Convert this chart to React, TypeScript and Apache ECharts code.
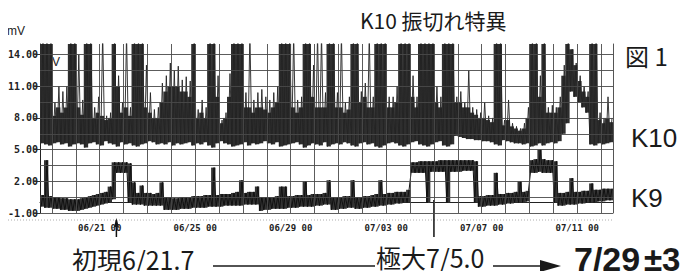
import React, { useEffect, useRef } from "react";
import * as echarts from "echarts";

// time axis in "day of June" (July d = 30 + d); 4-hour bins from 06/18 12:00
const T_START = 18.5;
const T_END = 42.5;
const BIN_DAYS = 1 / 6;

const xLabelDays = [21, 25, 29, 33, 37, 41];
const xGridDays = [19, 20, 21, 22, 23, 24, 25, 26, 27, 28, 29, 30, 31, 32, 33, 34, 35, 36, 37, 38, 39, 40, 41, 42];
const yLabelValues = [-1, 2, 5, 8, 11, 14];
const yGridValues = [-1, 0.5, 2, 3.5, 5, 6.5, 8, 9.5, 11, 12.5, 14];

const onsetDay = 21.7; // 初現6/21.7
const peakDay = 35.0; // 極大7/5.0

// K10 per 4-hour bin (mV): spike maxima, top of the dense trace, minima
const k10Hi = [
  16, 16, 16, 9.5, 11, 10.5, 11, 16, 16, 14,
  9.7, 16, 16, 9.0, 10, 16, 8.2, 8.5, 16, 12,
  9.5, 16, 9, 16, 16, 16, 13, 10.4, 8.8, 9,
  11.3, 12, 13.2, 12.5, 12.9, 11.6, 11.9, 11.5, 16, 8.8,
  9.7, 9, 16, 16, 12, 7.8, 8.5, 12.2, 16, 16,
  16, 10.4, 16, 9.7, 10.4, 10.7, 10, 9.7, 10.4, 11,
  16, 16, 16, 16, 9.7, 10, 16, 16, 13, 16,
  16, 10.4, 16, 16, 10.4, 16, 9.5, 10, 16, 16,
  10.5, 11.3, 16, 10, 16, 16, 16, 10, 10, 11,
  16, 16, 16, 12, 10, 16, 16, 16, 16, 11,
  10, 16, 16, 16, 10, 10.5, 9.5, 12.5, 9, 8.8,
  8.5, 9.5, 8.2, 8, 16, 16, 7.8, 9.7, 7.5, 7.2,
  7, 7.5, 9, 16, 16, 12, 16, 9, 9.2, 9,
  10, 13, 16, 14.5, 13.2, 12, 11, 10.5, 16, 16,
  8.5, 8, 10, 8,
];
const k10Body = [
  16, 16, 16, 8.2, 9, 8.5, 9, 16, 16, 9,
  8.3, 16, 16, 8, 8.5, 8.2, 7.8, 8, 16, 11,
  8.5, 9, 8.2, 16, 16, 16, 9, 8.5, 8, 8,
  9.5, 10.5, 11, 11, 11, 10.5, 10.5, 10, 16, 8,
  8.5, 8, 16, 16, 10, 7.5, 8, 10, 16, 16,
  16, 9, 9, 8.5, 9, 9, 8.8, 8.5, 9, 9.5,
  16, 16, 16, 9, 8.5, 9, 16, 16, 10, 9,
  9, 9, 16, 16, 9, 9, 8.5, 8.8, 16, 16,
  9.5, 10, 9, 9, 16, 16, 16, 9, 9, 9.5,
  16, 16, 16, 10, 9, 16, 16, 16, 16, 9.5,
  9, 16, 16, 16, 9.5, 9.5, 9, 9, 8.5, 8.3,
  8, 8, 7.8, 7.6, 16, 16, 7.3, 7.8, 7.2, 7,
  6.8, 7, 8, 16, 16, 10, 16, 8.5, 8.5, 8.5,
  9, 12, 16, 14.5, 13, 11.5, 10.5, 10, 16, 16,
  7.8, 7.5, 8, 7.6,
];
const k10Lo = [
  5.6, 5.5, 5.4, 5.6, 5.7, 5.5, 5.6, 5.3, 5.5, 5.6,
  5.5, 5.2, 5.6, 5.7, 5.5, 5.4, 5.8, 5.6, 5.5, 5.3,
  5.7, 5.5, 5.6, 5.4, 5.3, 5.5, 5.6, 5.8, 5.7, 5.5,
  5.6, 5.5, 5.7, 5.4, 5.6, 5.5, 5.6, 5.7, 5.4, 5.6,
  5.5, 5.7, 5.4, 5.2, 5.6, 5.8, 5.6, 5.5, 5.3, 5.4,
  5.5, 5.7, 5.4, 5.6, 5.5, 5.6, 5.8, 5.6, 5.5, 5.7,
  5.3, 5.4, 5.5, 5.6, 5.7, 5.5, 5.2, 5.4, 5.6, 5.5,
  5.4, 5.7, 5.3, 5.5, 5.6, 5.5, 5.7, 5.6, 5.4, 5.3,
  5.6, 5.7, 5.5, 5.6, 5.3, 5.2, 5.4, 5.6, 5.7, 5.6,
  5.4, 5.3, 5.5, 5.7, 5.8, 5.5, 5.4, 5.3, 5.5, 5.7,
  5.8, 5.4, 5.3, 5.5, 6.3, 6.2, 6.1, 6.0, 6.0, 5.9,
  5.9, 5.8, 5.8, 5.7, 5.5, 5.4, 5.9, 5.8, 5.7, 5.6,
  5.6, 5.5, 5.6, 5.3, 5.4, 5.6, 5.4, 5.6, 5.7, 5.6,
  5.8, 6.5, 7.5, 10.5, 10.0, 9.5, 9.0, 8.5, 5.5, 5.4,
  5.6, 5.5, 5.6, 5.7,
];

// K9 envelope per 4-hour bin (mV)
const k9Hi = [
  0.7, 4.0, 0.6, 0.5, 0.5, 0.4, 0.4, 0.3, 0.3, 0.3,
  0.4, 0.5, 0.6, 0.7, 0.8, 0.9, 1.0, 1.5, 3.8, 3.8,
  3.8, 3.8, 3.7, 1.9, 0.9, 1.6, 0.9, 0.9, 0.8, 0.9,
  1.9, 0.5, 0.5, 0.4, 0.4, 0.5, 0.5, 0.5, 0.6, 0.6,
  0.6, 0.7, 0.7, 3.3, 0.7, 0.8, 0.8, 0.8, 0.9, 1.0,
  2.1, 0.9, 1.0, 1.0, 1.5, 0.5, 0.5, 0.5, 0.5, 0.6,
  1.5, 1.5, 0.6, 0.6, 0.7, 0.7, 2.0, 0.7, 0.8, 0.8,
  0.8, 0.9, 2.1, 0.5, 0.5, 0.5, 0.6, 0.6, 2.1, 0.5,
  0.5, 0.6, 0.6, 0.7, 0.8, 2.1, 0.8, 0.9, 0.9, 1.0,
  1.0, 1.0, 1.2, 3.8, 3.8, 3.9, 3.9, 3.9, 3.9, 3.9,
  4.0, 4.0, 4.0, 4.0, 4.0, 4.0, 4.0, 4.0, 4.0, 3.9,
  0.6, 0.6, 0.7, 0.7, 2.8, 0.8, 0.8, 0.9, 0.9, 1.0,
  2.0, 1.0, 1.1, 4.0, 4.1, 5.0, 4.1, 4.0, 4.0, 3.9,
  0.9, 0.9, 1.0, 2.3, 1.0, 1.0, 1.1, 1.1, 1.8, 1.2,
  1.2, 1.3, 1.3, 1.3,
];
const k9Lo = [
  -0.4, -0.5, -0.5, -0.6, -0.6, -0.7, -0.7, -0.8, -0.8, -0.8,
  -0.7, -0.6, -0.5, -0.4, -0.3, -0.2, -0.1, 0, 0.3, 2.8,
  2.8, 2.8, 0, -0.2, -0.2, -0.2, -0.3, -0.3, -0.3, -0.3,
  -0.3, -0.7, -0.7, -0.7, -0.7, -0.6, -0.6, -0.6, -0.5, -0.5,
  -0.5, -0.5, -0.4, -0.4, -0.4, -0.4, -0.3, -0.3, -0.3, -0.3,
  -0.3, -0.2, -0.2, -0.2, -0.2, -0.8, -0.7, -0.7, -0.6, -0.6,
  -0.6, -0.6, -0.5, -0.5, -0.5, -0.4, -0.4, -0.4, -0.4, -0.3,
  -0.3, -0.2, -0.2, -0.7, -0.7, -0.6, -0.6, -0.5, -0.5, -0.6,
  -0.6, -0.5, -0.5, -0.4, -0.4, -0.3, -0.3, -0.2, -0.2, -0.1,
  -0.1, 0, 0, 2.8, 2.8, 2.8, 2.8, -0.05, 2.9, 2.9,
  2.9, 2.9, 0, 2.9, 2.9, 2.9, 3, 3, 3, 0,
  -0.4, -0.4, -0.3, -0.3, -0.3, -0.2, -0.2, -0.1, -0.1, 0,
  0, 0, 0.1, 2.8, 2.8, 2.9, 2.8, 2.8, 2.8, 0,
  -0.3, -0.3, -0.2, -0.2, -0.2, -0.1, -0.1, 0, 0, 0,
  0.1, 0.1, 0.2, 0.2,
];

function zigzag(lo: number[], hi: number[]): number[][] {
  const out: number[][] = [];
  for (let i = 0; i < lo.length; i++) {
    const t = T_START + i * BIN_DAYS;
    out.push([t + BIN_DAYS * 0.25, lo[i]]);
    out.push([t + BIN_DAYS * 0.75, hi[i]]);
  }
  return out;
}

function bins(lo: number[], hi: number[]): number[][] {
  return lo.map((v, i) => [T_START + (i + 0.5) * BIN_DAYS, v, hi[i]]);
}

function dayLabel(v: number): string {
  const d = Math.round(v);
  const m = d > 30 ? 7 : 6;
  const dd = d > 30 ? d - 30 : d;
  return "0" + m + "/" + (dd < 10 ? "0" + dd : String(dd)) + " 00";
}

function bandRenderer(fill: string) {
  return (params: any, api: any) => {
    const t = api.value(0);
    const lo = api.value(1);
    const hi = api.value(2);
    const p1 = api.coord([t - BIN_DAYS / 2, hi]);
    const p2 = api.coord([t + BIN_DAYS / 2, lo]);
    const cs = params.coordSys;
    const rect = echarts.graphic.clipRectByRect(
      { x: p1[0], y: p1[1], width: p2[0] - p1[0] + 0.4, height: p2[1] - p1[1] },
      { x: cs.x, y: cs.y, width: cs.width, height: cs.height }
    );
    if (!rect) return null;
    return { type: "rect", shape: rect, style: { fill } };
  };
}

const CJK = "'Noto Sans CJK JP', 'Noto Sans', sans-serif";
const LATIN = "'Liberation Sans', Arial, sans-serif";

export default function App() {
  const ref = useRef<HTMLDivElement>(null);
  useEffect(() => {
    if (!ref.current) return;
    const chart = echarts.init(ref.current, undefined, { renderer: "svg" });
    const gridColor = "#4a4a4a";
    chart.setOption({
      animation: false,
      backgroundColor: "#ffffff",
      grid: { left: 40, right: 76, top: 44, bottom: 66 },
      xAxis: {
        type: "value",
        min: T_START,
        max: T_END,
        splitLine: { show: false },
        axisLine: { show: true, lineStyle: { color: "#222", width: 1 } },
        axisTick: { show: false },
        axisLabel: {
          customValues: xLabelDays,
          formatter: (v: number) => dayLabel(v),
          fontFamily: "'DejaVu Sans Mono', monospace",
          fontSize: 9,
          fontWeight: "bold",
          color: "#222",
          margin: 10,
        },
      },
      yAxis: [
        {
          type: "value",
          min: -1,
          max: 15,
          splitLine: { show: false },
          axisLine: { show: true, lineStyle: { color: "#222", width: 1 } },
          axisTick: { show: true, customValues: yLabelValues, length: 6, lineStyle: { color: "#333" } },
          axisLabel: {
            customValues: yLabelValues,
            formatter: (v: number) => v.toFixed(2),
            fontFamily: "'DejaVu Sans Mono', monospace",
            fontSize: 10,
            fontWeight: "bold",
            color: "#222",
            margin: 2,
          },
        },
        {
          type: "value",
          min: -1,
          max: 15,
          position: "right",
          splitLine: { show: false },
          axisLine: { show: true, lineStyle: { color: "#555", width: 1 } },
          axisTick: { show: false },
          axisLabel: { show: false },
        },
      ],
      series: [
        {
          type: "line",
          name: "grid",
          data: [],
          silent: true,
          z: 1,
          markLine: {
            silent: true,
            symbol: ["none", "none"],
            label: { show: false },
            animation: false,
            lineStyle: { color: gridColor, width: 0.9, type: "solid" },
            data: [
              ...xGridDays.map((d) => ({ xAxis: d })),
              ...yGridValues.map((v) => ({ yAxis: v })),
            ],
          },
        },
        {
          type: "custom",
          name: "K10 body",
          data: bins(k10Lo, k10Body),
          encode: { x: 0, y: [1, 2] },
          renderItem: bandRenderer("#2e2e2e"),
          silent: true,
          z: 2,
        },
        {
          type: "custom",
          name: "K9 band",
          data: bins(k9Lo, k9Hi),
          encode: { x: 0, y: [1, 2] },
          renderItem: bandRenderer("#333333"),
          silent: true,
          z: 2,
        },
        {
          type: "line",
          name: "K10",
          data: zigzag(k10Lo, k10Hi),
          showSymbol: false,
          symbol: "none",
          silent: true,
          z: 3,
          lineStyle: { color: "#222", width: 0.9 },
        },
        {
          type: "line",
          name: "K9",
          data: zigzag(k9Lo, k9Hi),
          showSymbol: false,
          symbol: "none",
          silent: true,
          z: 3,
          lineStyle: { color: "#111", width: 1 },
        },
      ],
    });

    const xOn = chart.convertToPixel({ xAxisIndex: 0 }, onsetDay) as number;
    const xPk = chart.convertToPixel({ xAxisIndex: 0 }, peakDay) as number;
    const txt = (x: number, y: number, text: string, fontSize: number, extra: any = {}) => ({
      type: "text",
      x,
      y,
      silent: true,
      style: {
        text,
        fontSize,
        fontFamily: CJK,
        fill: "#1a1a1a",
        align: "left",
        verticalAlign: "middle",
        ...extra,
      },
    });
    chart.setOption({
      graphic: [
        txt(7, 31, "mV", 12, { fontFamily: LATIN }),
        txt(52, 62, "V", 12, { fontFamily: LATIN }),
        txt(360, 20, "K10 振切れ特異", 21),
        txt(625, 55, "図 1", 24),
        txt(631, 138, "K10", 26, { fontFamily: LATIN }),
        txt(631, 198, "K9", 26, { fontFamily: LATIN }),
        txt(72, 259, "初現6/21.7", 25),
        txt(376, 257, "極大7/5.0", 25),
        txt(574, 259, "7/29", 34, { fontFamily: LATIN, fontWeight: "bold" }),
        txt(644, 259, "±3", 33, { fontFamily: LATIN, fontWeight: "bold" }),
        {
          type: "line",
          silent: true,
          shape: { x1: 213, y1: 266, x2: 375, y2: 266 },
          style: { stroke: "#1a1a1a", lineWidth: 1.5 },
        },
        {
          type: "line",
          silent: true,
          shape: { x1: 493, y1: 266, x2: 545, y2: 266 },
          style: { stroke: "#1a1a1a", lineWidth: 1.5 },
        },
        {
          type: "polygon",
          silent: true,
          shape: { points: [[540, 260], [561, 266], [540, 272]] },
          style: { fill: "#1a1a1a" },
        },
        {
          type: "line",
          silent: true,
          shape: { x1: 2, y1: 220, x2: 613, y2: 220 },
          style: { stroke: "#999", lineWidth: 0.8, lineDash: [1, 2] },
        },
        {
          type: "line",
          silent: true,
          shape: { x1: xOn, y1: 220, x2: xOn, y2: 237 },
          style: { stroke: "#111", lineWidth: 1.5 },
        },
        {
          type: "polygon",
          silent: true,
          shape: { points: [[xOn - 2.5, 227], [xOn, 218], [xOn + 2.5, 227]] },
          style: { fill: "#111" },
        },
        {
          type: "line",
          silent: true,
          shape: { x1: xPk, y1: 200, x2: xPk, y2: 237 },
          style: { stroke: "#111", lineWidth: 1.5 },
        },
      ],
    });
    return () => chart.dispose();
  }, []);
  return <div ref={ref} style={{ width: 689, height: 279, margin: -8 }} />;
}
